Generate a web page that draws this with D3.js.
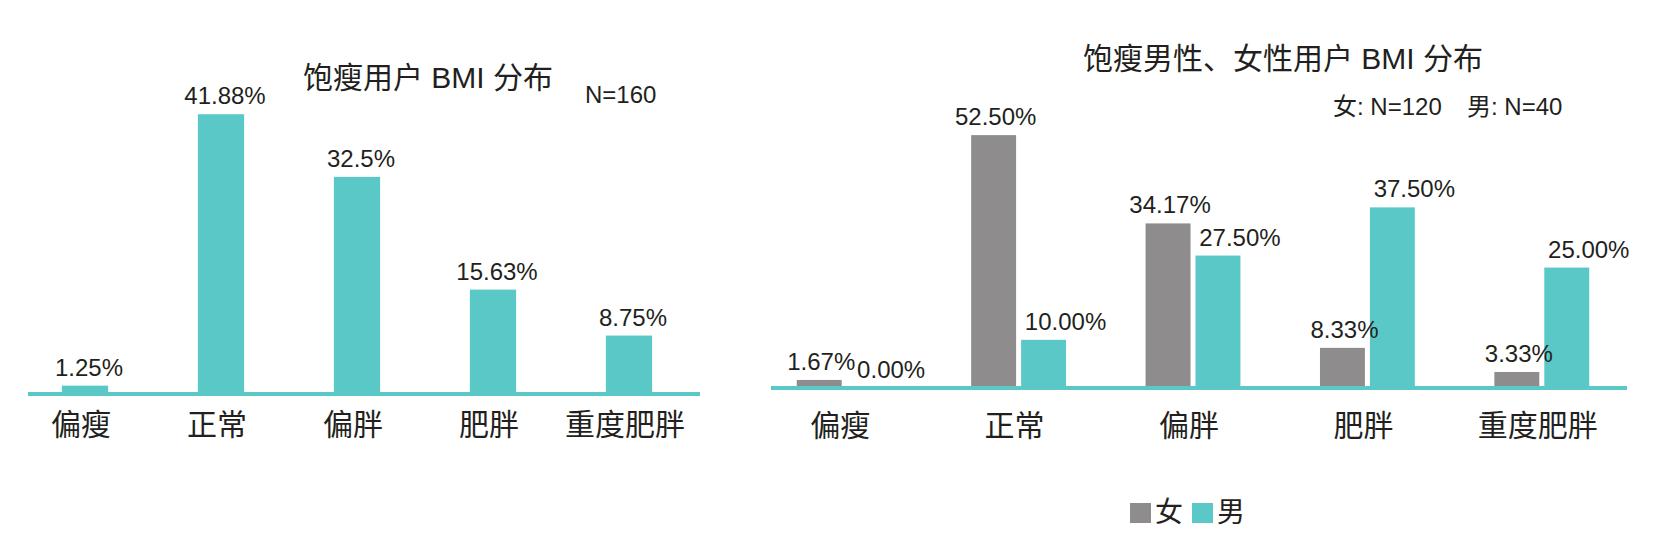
<!DOCTYPE html>
<html lang="zh">
<head>
<meta charset="utf-8">
<title>饱瘦用户 BMI 分布</title>
<script src="https://d3js.org/d3.v7.min.js"></script>
<style>
  body { margin: 0; background: #fff; }
  text { font-family: "Liberation Sans", Arial, "Noto Sans CJK SC", sans-serif; fill: #231f20; }
</style>
</head>
<body>
<svg width="1656" height="552"></svg>
<script>
// categories (x axis)
var categories = ["偏瘦", "正常", "偏胖", "肥胖", "重度肥胖"];

// left chart: all users, %
var allUsers = [1.25, 41.88, 32.5, 15.63, 8.75];
var allLabels = ["1.25%", "41.88%", "32.5%", "15.63%", "8.75%"];

// right chart: female / male, %
var series = ["女", "男"];
var female = [1.67, 52.50, 34.17, 8.33, 3.33];
var male = [0.00, 10.00, 27.50, 37.50, 25.00];

var teal = "#5bc8c8", grey = "#8e8c8d";
var svg = d3.select("svg");

// ---------- left chart ----------
var xL = d3.scaleBand().domain(categories).range([17, 697]).paddingInner(0.66).paddingOuter(0.33);
var yL = d3.scaleLinear().domain([0, 50]).range([394, 60]);

var left = svg.append("g").attr("id", "left");

left.selectAll("rect")
  .data(allUsers)
  .enter()
  .append("rect")
  .attr("x", (d, i) => xL(categories[i]))
  .attr("y", d => yL(d))
  .attr("width", xL.bandwidth())
  .attr("height", d => yL(0) - yL(d))
  .attr("fill", teal);

left.append("line")
  .attr("x1", 28).attr("x2", 700)
  .attr("y1", yL(0)).attr("y2", yL(0))
  .attr("stroke", teal).attr("stroke-width", 4);

left.selectAll(".val")
  .data(allUsers)
  .enter()
  .append("text")
  .attr("class", "val")
  .attr("x", (d, i) => xL(categories[i]) + xL.bandwidth() / 2 + 4)
  .attr("y", d => yL(d) - 10)
  .attr("text-anchor", "middle")
  .style("font-size", "24px")
  .text((d, i) => allLabels[i]);

left.selectAll(".cat")
  .data(categories)
  .enter()
  .append("text")
  .attr("class", "cat")
  .attr("x", d => xL(d) + xL.bandwidth() / 2 - 4)
  .attr("y", 435)
  .attr("text-anchor", "middle")
  .style("font-size", "30px")
  .text(d => d);

left.append("text")
  .attr("x", 428).attr("y", 88)
  .attr("text-anchor", "middle")
  .style("font-size", "30px")
  .text("饱瘦用户 BMI 分布");

left.append("text")
  .attr("x", 585).attr("y", 103)
  .style("font-size", "24px")
  .text("N=160");

// ---------- right chart ----------
var x0 = d3.scaleBand().domain(categories).range([757, 1629]).paddingInner(0.456).paddingOuter(0.228);
var x1 = d3.scaleBand().domain(series).range([0, x0.bandwidth()]).paddingInner(0.1);
var yR = d3.scaleLinear().domain([0, 60]).range([388, 99]);
var colour = d3.scaleOrdinal().domain(series).range([grey, teal]);

var rows = categories.map((c, i) => ({cat: c, values: [
  {s: "女", v: female[i]},
  {s: "男", v: male[i]}
]}));

var right = svg.append("g").attr("id", "right");

var groups = right.selectAll(".grp")
  .data(rows)
  .enter()
  .append("g")
  .attr("class", "grp")
  .attr("transform", d => `translate(${x0(d.cat)},0)`);

groups.selectAll("rect")
  .data(d => d.values)
  .enter()
  .append("rect")
  .attr("x", d => x1(d.s))
  .attr("y", d => yR(d.v))
  .attr("width", x1.bandwidth())
  .attr("height", d => yR(0) - yR(d.v))
  .attr("fill", d => colour(d.s));

groups.selectAll("text")
  .data(d => d.values)
  .enter()
  .append("text")
  .attr("x", d => x1(d.s) + x1.bandwidth() / 2 + (d.s == "女" ? 2 : 22))
  .attr("y", d => yR(d.v) - 10)
  .attr("text-anchor", "middle")
  .style("font-size", "24px")
  .text(d => d.v.toFixed(2) + "%");

right.append("line")
  .attr("x1", 771).attr("x2", 1627)
  .attr("y1", yR(0)).attr("y2", yR(0))
  .attr("stroke", teal).attr("stroke-width", 4);

right.selectAll(".cat")
  .data(categories)
  .enter()
  .append("text")
  .attr("class", "cat")
  .attr("x", d => x0(d) + x0.bandwidth() / 2 - 4)
  .attr("y", 436)
  .attr("text-anchor", "middle")
  .style("font-size", "30px")
  .text(d => d);

right.append("text")
  .attr("x", 1283).attr("y", 69)
  .attr("text-anchor", "middle")
  .style("font-size", "30px")
  .text("饱瘦男性、女性用户 BMI 分布");

right.append("text")
  .attr("x", 1333).attr("y", 115)
  .style("font-size", "24px")
  .text("女: N=120");

right.append("text")
  .attr("x", 1467).attr("y", 115)
  .style("font-size", "24px")
  .text("男: N=40");

// legend
var legend = right.selectAll(".leg")
  .data(series)
  .enter()
  .append("g")
  .attr("class", "leg")
  .attr("transform", (d, i) => `translate(${1130 + i * 62},503)`);

legend.append("rect")
  .attr("width", 21).attr("height", 20)
  .attr("fill", d => colour(d));

legend.append("text")
  .attr("x", 25).attr("y", 19)
  .style("font-size", "28px")
  .text(d => d);
</script>
</body>
</html>
